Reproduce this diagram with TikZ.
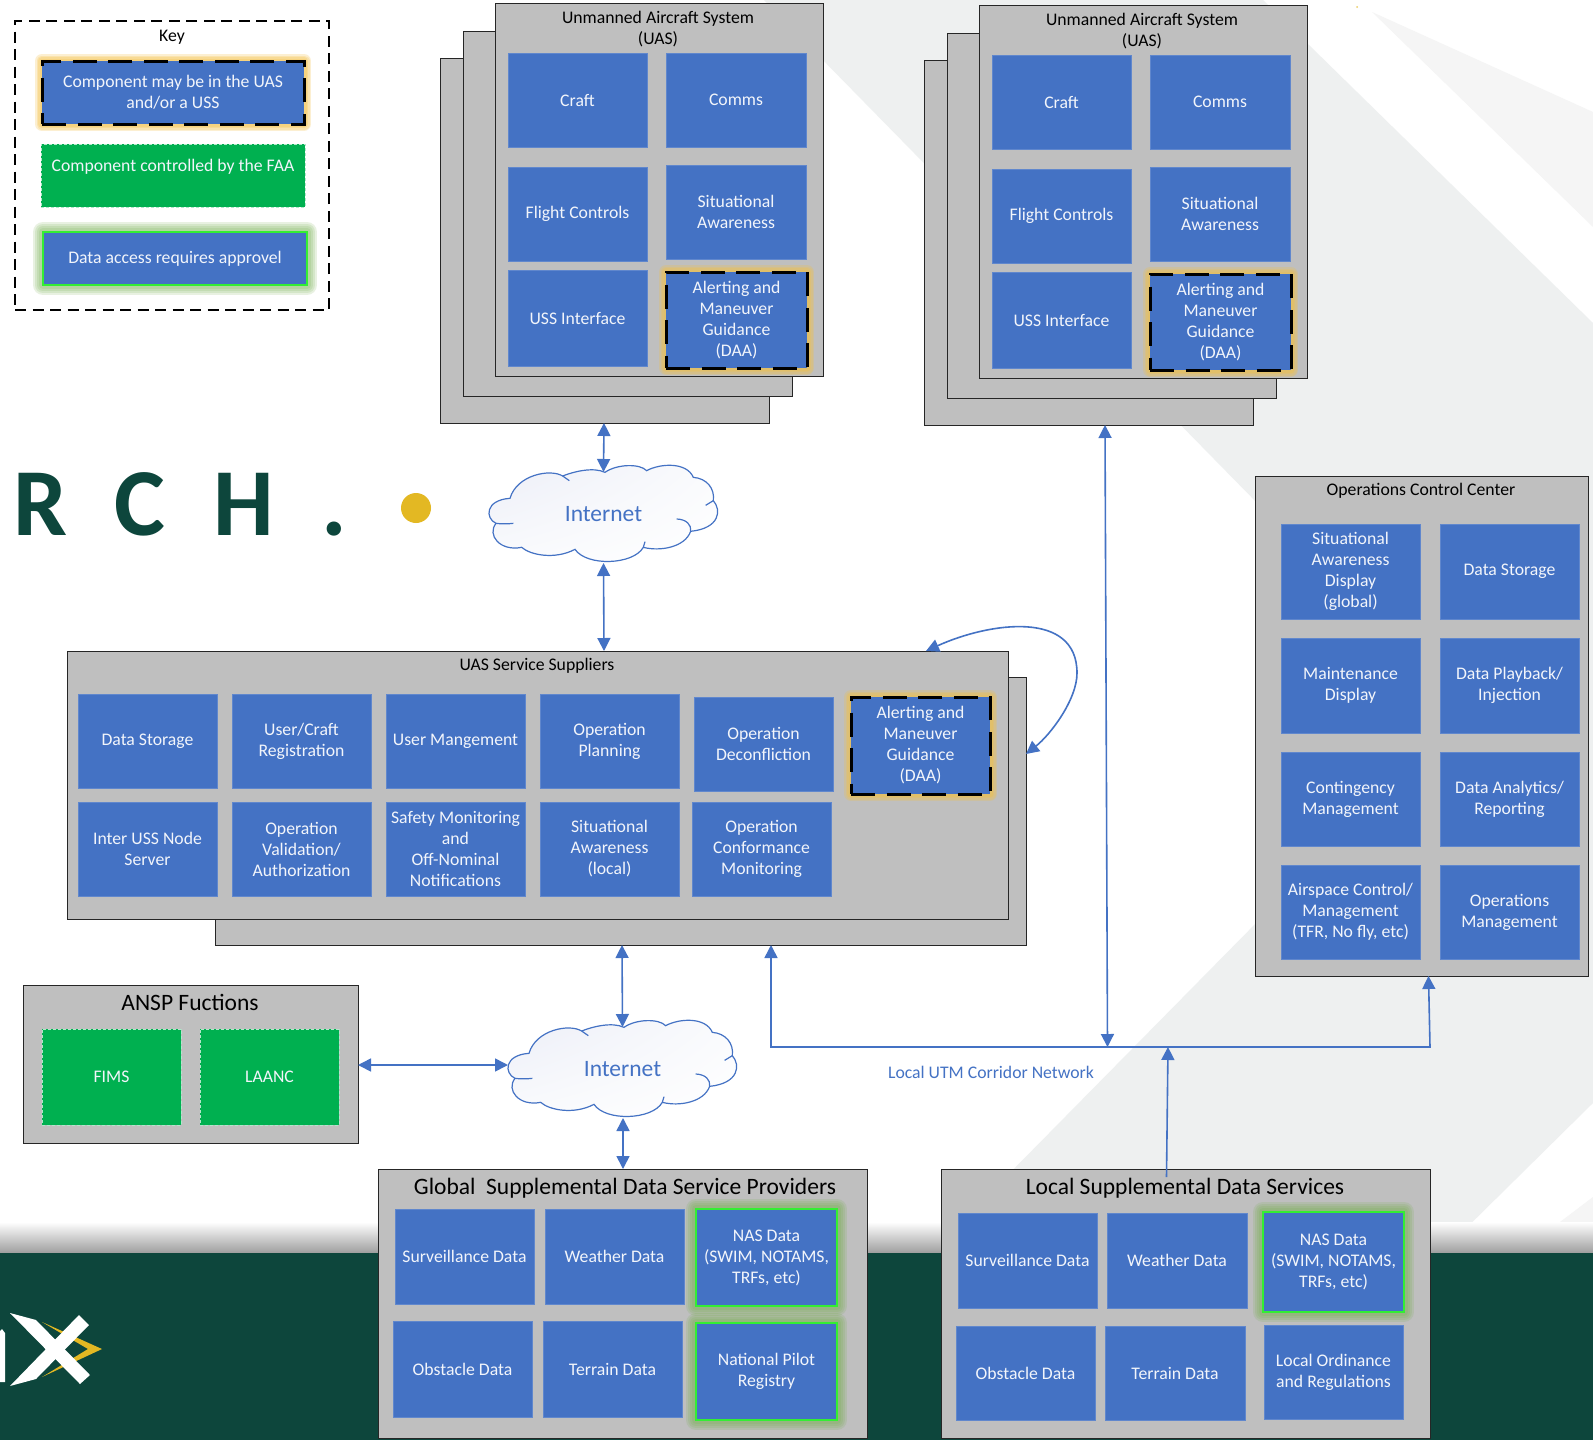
\documentclass[tikz,border=0pt]{standalone}
\usepackage{fontspec}
\setmainfont{Carlito}
\usetikzlibrary{arrows.meta,shadings}
\definecolor{boxblue}{HTML}{4472C4}
\definecolor{panelgrey}{HTML}{BFBFBF}
\definecolor{faagreen}{HTML}{00B050}
\definecolor{bandgreen}{HTML}{0D463C}
\definecolor{logogold}{HTML}{E3B823}
\definecolor{glowgold}{HTML}{F5C040}
\definecolor{glowgreen}{HTML}{70AD47}
\definecolor{approvegreen}{HTML}{33EE33}
\definecolor{paleA}{HTML}{EEF0F0}
\definecolor{paleB}{HTML}{F5F5F5}
\definecolor{boxtextcol}{HTML}{F2F5FB}
\definecolor{cloudUL}{RGB}{236,238,247}
\definecolor{cloudMid}{RGB}{250,251,253}
\newcommand\mybox[7]{\node[#6, minimum width=#4pt-#2pt, minimum height=#5pt-#3pt] (#1) at ({(#2+#4)/2},{(#3+#5)/2}) {#7};}
\newcommand\cloudshape[1]{%
\begin{scope}[shift={#1},x=0.3333pt,y=-0.3333pt]
\path[draw=boxblue,line width=1.2pt,shading=bilinear interpolation,upper left=cloudUL,upper right=cloudMid,lower left=cloudMid,lower right=white]
 (375,37)
 .. controls (410,12) and (480,10) .. (500,32)
 .. controls (540,10) and (620,5) .. (640,52)
 .. controls (680,55) and (705,85) .. (700,122)
 .. controls (725,150) and (720,205) .. (632,214)
 .. controls (615,262) and (540,275) .. (490,262)
 .. controls (460,315) and (320,320) .. (285,268)
 .. controls (225,300) and (150,285) .. (125,262)
 .. controls (60,275) and (20,225) .. (48,190)
 .. controls (15,175) and (15,120) .. (90,115)
 .. controls (110,45) and (210,25) .. (248,48)
 .. controls (280,35) and (340,20) .. (375,37) -- cycle;
\draw[boxblue,line width=1.2pt] (248,48) -- (268,62);
\draw[boxblue,line width=1.2pt] (48,190) .. controls (60,192) and (85,192) .. (100,190);
\draw[boxblue,line width=1.2pt] (590,177) .. controls (620,178) and (635,195) .. (632,214);
\draw[boxblue,line width=1.2pt] (490,262) -- (495,245);
\draw[boxblue,line width=1.2pt] (700,122) -- (677,136);
\end{scope}}
\newcommand\uasgroup[2]{%
\begin{scope}[shift={(#2)}]
\mybox{#1back}{440}{58}{769}{423}{panel}{}
\mybox{#1mid}{463}{31}{792}{396}{panel}{}
\mybox{#1front}{495}{3}{823}{376}{panel}{}
\node[paneltitle] (#1title) at (658,29) {Unmanned Aircraft System\\(UAS)};
\mybox{#1craft}{508}{53}{647}{147}{bluebox}{Craft}
\mybox{#1comms}{666}{53}{806}{147}{bluebox}{Comms}
\mybox{#1flight}{508}{167}{647}{261}{bluebox}{Flight Controls}
\mybox{#1sit}{666}{165}{806}{259}{bluebox}{Situational\\Awareness}
\mybox{#1uss}{508}{270}{647}{366}{bluebox}{USS Interface}
\mybox{#1daa}{666}{272}{807}{368}{daabox}{Alerting and\\Maneuver\\Guidance\\(DAA)}
\end{scope}}
\tikzset{
 boxtext/.style={font=\fontsize{17.7}{21}\selectfont,align=center,inner sep=0pt,outer sep=0pt},
 bluebox/.style={boxtext,fill=boxblue,draw=boxblue!85!white,line width=.6pt,text=boxtextcol},
 greenbox/.style={boxtext,fill=faagreen,draw=white!70!faagreen,densely dashed,line width=.6pt,text=boxtextcol},
 glowgr/.style={draw=glowgreen,solid,line join=round,line width=#1,draw opacity=.16},
 glowgo/.style={draw=glowgold,solid,line join=round,line width=#1,draw opacity=.24},
 approvalbox/.style={boxtext,fill=boxblue,text=boxtextcol,
   preaction={glowgr=20pt},preaction={glowgr=16pt},preaction={glowgr=12pt},preaction={glowgr=8pt},
   draw=approvegreen,line width=2.2pt},
 daabox/.style={boxtext,fill=boxblue,text=boxtextcol,
   preaction={glowgo=14pt},preaction={glowgo=11pt},preaction={glowgo=8pt},preaction={glowgo=5pt},
   draw=black,line width=3pt,dash pattern=on 24pt off 11.5pt},
 panel/.style={fill=panelgrey,draw=black!85,line width=1pt,inner sep=0pt,outer sep=0pt},
 paneltitle/.style={font=\fontsize{17.7}{21}\selectfont,align=center,inner sep=0pt,text=black},
 bigtitle/.style={font=\fontsize{23.5}{27}\selectfont,align=center,inner sep=0pt,text=black},
 cloudnode/.style={font=\fontsize{23.5}{28}\selectfont,text=boxblue,inner sep=0pt,outer sep=0pt,minimum width=229pt,minimum height=98pt},
 logoletter/.style={font=\fontsize{96}{96}\selectfont\bfseries,text=bandgreen,anchor=base,inner sep=0pt},
 link/.style={draw=boxblue,line width=1.6pt},
 both/.style={link,{Triangle[length=13pt,width=13pt]}-{Triangle[length=13pt,width=13pt]}},
 tohead/.style={link,-{Triangle[length=13pt,width=13pt]}},
}
\begin{document}
\begin{tikzpicture}[x=1pt,y=-1pt]
\useasboundingbox (0,0) rectangle (1593,1440);
\fill[white] (0,0) rectangle (1593,1440);
% background shapes
\fill[paleA] (764,0) -- (1263,0) -- (1593,323) -- (1593,1103) -- (1441,1253) -- (931,1253) -- (1463,713) -- cycle;
\fill[paleB] (1372,12) -- (1593,112) -- (1593,227) -- cycle;
\fill[paleB] (1593,1197) -- (1519,1253) -- (1593,1253) -- cycle;
\fill[logogold!70] (1357,7) circle (1pt);
\shade[top color=white,middle color=black!8,bottom color=black!38] (0,1222) rectangle (1593,1253);
\fill[bandgreen] (0,1253) rectangle (1593,1440);
% logo X
\fill[logogold] (42,1322) -- (102,1349) -- (42,1377) -- (88,1349) -- cycle;
\fill[white] (10,1313) -- (36,1320) -- (90,1375) -- (80,1384) -- cycle;
\fill[white] (79,1315) -- (89,1325) -- (36,1379) -- (10,1386) -- cycle;
\fill[white] (0,1331) -- (2,1329) -- (5,1333) -- (5,1382) -- (0,1382) -- cycle;
% logo letters
\node[logoletter] (letterR) at (40.5,535) {R};
\node[logoletter] (letterC) at (139.5,535) {C};
\node[logoletter] (letterH) at (243.5,535) {H};
\node[logoletter] (letterDot) at (334.5,535) {.};
\fill[logogold] (416,508) ellipse [x radius=15,y radius=15];
% key
\node[draw=black,line width=1.3pt,dash pattern=on 11pt off 6.5pt,inner sep=0pt,minimum width=314pt,minimum height=289pt] (keybox) at (172,165.5) {};
\node[paneltitle] (keytitle) at (172,37) {Key};
\mybox{keyA}{42}{61}{304}{124}{daabox}{Component may be in the UAS\\and/or a USS}
\mybox{keyB}{41}{144}{305}{207}{greenbox}{Component controlled by the FAA\\\mbox{}}
\mybox{keyC}{43}{232}{307}{285}{approvalbox}{Data access requires approvel}
% UAS stacks
\uasgroup{ua}{0,0}
\uasgroup{ub}{484,2}
% clouds
\cloudshape{(480,460)}
\node[cloudnode] (cloudA) at (603.5,514) {Internet};
\cloudshape{(499,1015)}
\node[cloudnode] (cloudB) at (622.5,1069) {Internet};
% USS
\mybox{ussback}{215}{677}{1026}{945}{panel}{}
\mybox{ussfront}{67}{651}{1008}{919}{panel}{}
\node[paneltitle] (usstitle) at (537,666) {UAS Service Suppliers};
\mybox{s1}{78}{694}{217}{788}{bluebox}{Data Storage}
\mybox{s2}{232}{694}{371}{788}{bluebox}{User/Craft\\Registration}
\mybox{s3}{386}{694}{525}{788}{bluebox}{User Mangement}
\mybox{s4}{540}{694}{679}{788}{bluebox}{Operation\\Planning}
\mybox{s5}{694}{697}{833}{791}{bluebox}{Operation\\Deconfliction}
\mybox{s6}{851}{697}{990}{794}{daabox}{Alerting and\\Maneuver\\Guidance\\(DAA)}
\mybox{s7}{78}{802}{217}{896}{bluebox}{Inter USS Node\\Server}
\mybox{s8}{232}{802}{371}{896}{bluebox}{Operation\\Validation/\\Authorization}
\mybox{s9}{386}{802}{525}{896}{bluebox}{Safety Monitoring\\and\\Off-Nominal\\Notifications}
\mybox{s10}{540}{802}{679}{896}{bluebox}{Situational\\Awareness\\(local)}
\mybox{s11}{692}{802}{831}{896}{bluebox}{Operation\\Conformance\\Monitoring}
% OCC
\mybox{occ}{1255}{476}{1588}{976}{panel}{}
\node[paneltitle] (occtitle) at (1421,491) {Operations Control Center};
\mybox{o1}{1281}{524}{1420}{619}{bluebox}{Situational\\Awareness\\Display\\(global)}
\mybox{o2}{1440}{524}{1579}{619}{bluebox}{Data Storage}
\mybox{o3}{1281}{638}{1420}{733}{bluebox}{Maintenance\\Display}
\mybox{o4}{1440}{638}{1579}{733}{bluebox}{Data Playback/\\Injection}
\mybox{o5}{1281}{752}{1420}{846}{bluebox}{Contingency\\Management}
\mybox{o6}{1440}{752}{1579}{846}{bluebox}{Data Analytics/\\Reporting}
\mybox{o7}{1281}{865}{1420}{959}{bluebox}{Airspace Control/\\Management\\(TFR, No fly, etc)}
\mybox{o8}{1440}{865}{1579}{959}{bluebox}{Operations\\Management}
% ANSP
\mybox{ansp}{23}{985}{358}{1143}{panel}{}
\node[bigtitle] (ansptitle) at (190,1002.5) {ANSP Fuctions};
\mybox{fims}{42}{1029}{181}{1125}{greenbox}{FIMS}
\mybox{laanc}{200}{1029}{339}{1125}{greenbox}{LAANC}
% Global
\mybox{glob}{378}{1169}{867}{1438}{panel}{}
\node[bigtitle] (globtitle) at (625,1188) {Global\ \ Supplemental Data Service Providers};
\mybox{g1}{395}{1209}{534}{1304}{bluebox}{Surveillance Data}
\mybox{g2}{545}{1209}{684}{1304}{bluebox}{Weather Data}
\mybox{g3}{696}{1209}{837}{1306}{approvalbox}{NAS Data\\(SWIM, NOTAMS,\\TRFs, etc)}
\mybox{g4}{393}{1321}{532}{1417}{bluebox}{Obstacle Data}
\mybox{g5}{543}{1321}{682}{1417}{bluebox}{Terrain Data}
\mybox{g6}{696}{1323}{837}{1420}{approvalbox}{National Pilot\\Registry}
% Local
\mybox{loc}{941}{1169}{1430}{1438}{panel}{}
\node[bigtitle] (loctitle) at (1185,1188) {Local Supplemental Data Services};
\mybox{l1}{958}{1213}{1097}{1308}{bluebox}{Surveillance Data}
\mybox{l2}{1107}{1213}{1247}{1308}{bluebox}{Weather Data}
\mybox{l3}{1263}{1212}{1404}{1312}{approvalbox}{NAS Data\\(SWIM, NOTAMS,\\TRFs, etc)}
\mybox{l4}{956}{1326}{1095}{1420}{bluebox}{Obstacle Data}
\mybox{l5}{1105}{1326}{1245}{1420}{bluebox}{Terrain Data}
\mybox{l6}{1264}{1325}{1403}{1419}{bluebox}{Local Ordinance\\and Regulations}
% connectors
\coordinate (utmL) at (771,1047);
\coordinate (utmR) at (1430,1047);
\coordinate (utmA) at (1107.5,1047);
\coordinate (utmB) at (1168,1047);
\coordinate (locOut) at (1166.5,1177);
\draw[both] (604,0 |- uaback.south) -- ([yshift=-7pt]cloudA.north);
\draw[both] (cloudA.south) -- (604,0 |- ussfront.north);
\draw[both] (622,0 |- ussback.south) -- ([yshift=-7pt]cloudB.north);
\draw[both] (623,0 |- cloudB.south) -- (623,0 |- glob.north);
\draw[both] (ansp.east |- 0,1065) -- (cloudB.west |- 0,1065);
\draw[both] (1105,0 |- ubback.south) -- (utmA);
\draw[tohead] (locOut) -- (utmB);
\draw[both] (771,0 |- ussback.south) -- (utmL) -- (utmR) -- (1428.5,0 |- occ.south);
\draw[both] (926,0 |- ussfront.north) .. controls (990,622) and (1077,610) .. (1077,673) .. controls (1077,700) and (1050,735) .. (ussback.east |- 0,754);
\node[font=\fontsize{17.7}{21}\selectfont,text=boxblue,inner sep=0pt] (utmlabel) at (991,1072) {Local UTM Corridor Network};
\end{tikzpicture}
\end{document}
